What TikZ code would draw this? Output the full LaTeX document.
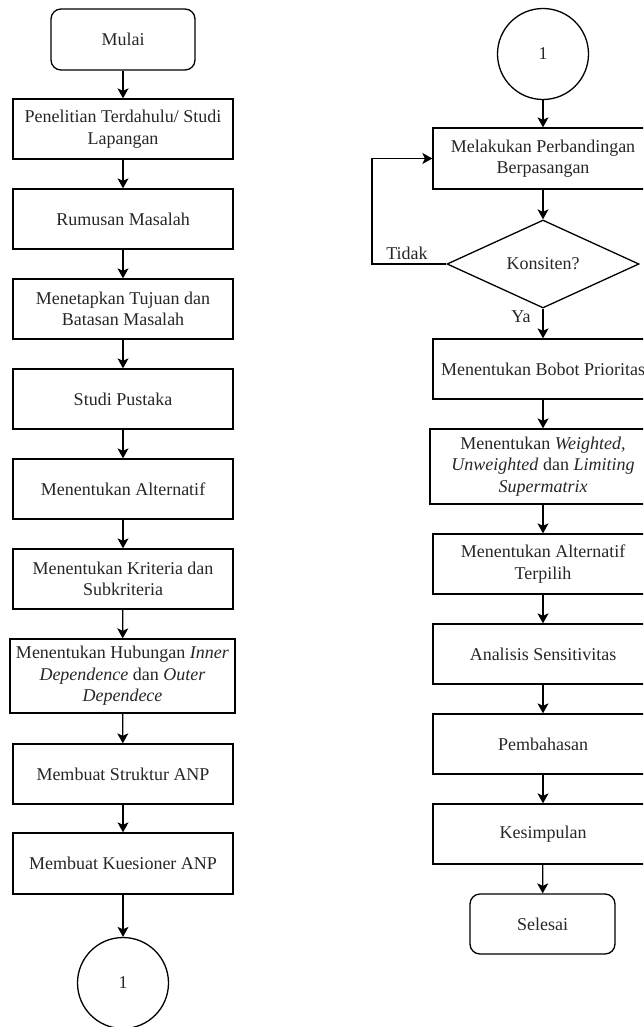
\documentclass[tikz,border=0pt]{standalone}
\usepackage{fontspec}
\setmainfont{Liberation Serif}
\usetikzlibrary{shapes.geometric,arrows.meta}

\tikzset{
  flow/.style={draw=black, line width=1.3pt, align=center, inner sep=0pt,
    font=\fontsize{18}{21.5}\selectfont, text=black!85},
  procbox/.style={flow, rectangle, minimum width=220pt, minimum height=60pt},
  termbox/.style={flow, rectangle, rounded corners=10pt, minimum width=144pt, minimum height=61pt},
  connector/.style={flow, circle, minimum size=91pt},
  decision/.style={flow, diamond, minimum width=192pt, minimum height=88pt},
  lbl/.style={font=\fontsize{18}{21.5}\selectfont, text=black!85, inner sep=0pt},
  arr/.style={line width=1.3pt, -{Stealth[length=10pt,width=11pt,inset=2.5pt]}},
}

\begin{document}
\begin{tikzpicture}[x=1pt,y=-1pt]
\clip (0,0) rectangle (643,1027);

% left column
\node[termbox] (mulai) at (123,39.5) {Mulai};
\node[procbox] (p1) at (123,129) {Penelitian Terdahulu/ Studi\\Lapangan};
\node[procbox] (p2) at (123,219) {Rumusan Masalah};
\node[procbox] (p3) at (123,309) {Menetapkan Tujuan dan\\Batasan Masalah};
\node[procbox] (p4) at (123,399) {Studi Pustaka};
\node[procbox] (p5) at (123,489) {Menentukan Alternatif};
\node[procbox] (p6) at (123,579) {Menentukan Kriteria dan\\Subkriteria};
\node[procbox, minimum width=225pt, minimum height=74pt] (p7) at (122.5,676)
  {Menentukan Hubungan \textit{Inner}\\\textit{Dependence} dan \textit{Outer}\\\textit{Dependece}};
\node[procbox] (p8) at (123,774) {Membuat Struktur ANP};
\node[procbox, minimum height=61pt] (p9) at (123,863.5) {Membuat Kuesioner ANP};
\node[connector] (c1) at (123,983) {1};

\draw[arr] (mulai) -- (p1);
\draw[arr] (p1) -- (p2);
\draw[arr] (p2) -- (p3);
\draw[arr] (p3) -- (p4);
\draw[arr] (p4) -- (p5);
\draw[arr] (p5) -- (p6);
\draw[arr] (p6) -- (p7);
\draw[arr] (p7) -- (p8);
\draw[arr] (p8) -- (p9);
\draw[arr] (p9) -- (c1);

% right column
\node[connector] (c2) at (543,54) {1};
\node[procbox, minimum height=61pt] (q1) at (543,158.5) {Melakukan Perbandingan\\Berpasangan};
\node[decision] (d) at (543,264) {Konsiten?};
\node[procbox] (q2) at (543,369) {Menentukan Bobot Prioritas};
\node[procbox, minimum width=226pt, minimum height=75pt] (q3) at (543,466.5)
  {Menentukan \textit{Weighted,}\\\textit{Unweighted} dan \textit{Limiting}\\\textit{Supermatrix}};
\node[procbox] (q4) at (543,564) {Menentukan Alternatif\\Terpilih};
\node[procbox] (q5) at (543,654) {Analisis Sensitivitas};
\node[procbox] (q6) at (543,744) {Pembahasan};
\node[procbox] (q7) at (543,834) {Kesimpulan};
\node[termbox, minimum width=145pt, minimum height=60pt] (sel) at (542.5,924) {Selesai};

\coordinate (loop) at (372,264);

\draw[arr] (c2) -- (q1);
\draw[arr] (q1) -- (d);
\draw[arr] (d.west) -- (loop) |- (q1.west);
\draw[arr] (d) -- (q2);
\draw[arr] (q2) -- (q3);
\draw[arr] (q3) -- (q4);
\draw[arr] (q4) -- (q5);
\draw[arr] (q5) -- (q6);
\draw[arr] (q6) -- (q7);
\draw[arr] (q7) -- (sel);

\node[lbl] (tidak) at (407,253) {Tidak};
\node[lbl] (ya) at (521,317) {Ya};
\end{tikzpicture}
\end{document}
